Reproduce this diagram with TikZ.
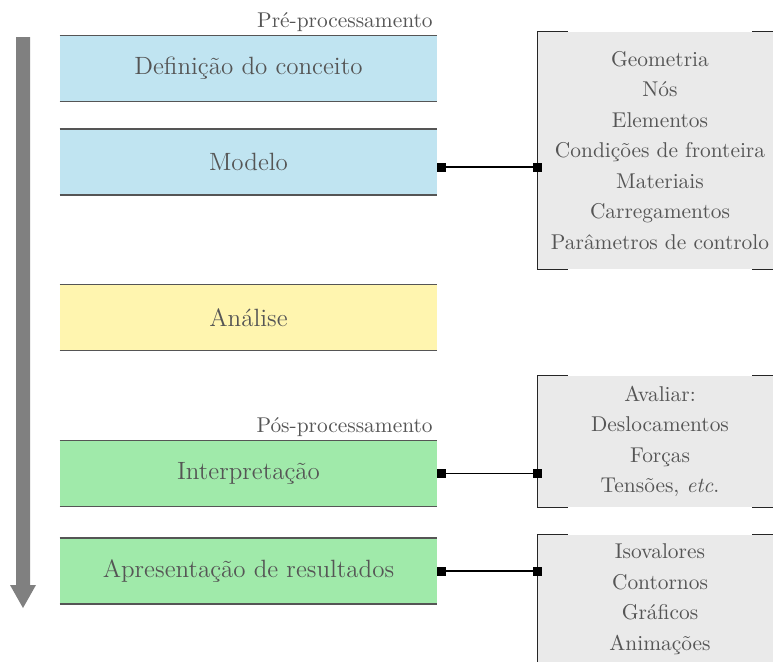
\documentclass[tikz,border=0pt]{standalone}
\usetikzlibrary{arrows.meta}
\definecolor{txt}{RGB}{85,85,85}
\definecolor{blueF}{RGB}{192,228,241}
\definecolor{yellowF}{RGB}{255,245,175}
\definecolor{greenF}{RGB}{160,234,170}
\definecolor{infoF}{RGB}{234,234,234}
\definecolor{arrowG}{RGB}{128,128,128}
\begin{document}
\begin{tikzpicture}[x=0.5pt,y=-0.5pt,
  stage/.style={minimum width=188.5pt,minimum height=32.5pt,inner sep=0pt,text=txt,font=\fontsize{12.5}{15}\selectfont},
  edge/.style={draw=txt,line width=0.75pt},
  lab/.style={text=txt,inner sep=0pt,font=\fontsize{10.7}{13}\selectfont},
  info/.style={fill=infoF,minimum width=122pt,inner sep=0pt,align=center,text=txt,font=\fontsize{10.7}{15.25}\selectfont},
  br/.style={draw=black!85,line width=0.6pt},
  conn/.style={draw=black,line width=0.7pt,{Square[length=4.5pt,width=4.5pt]}-{Square[length=4.5pt,width=4.5pt]}}
]
\useasboundingbox (0,0) rectangle (773,661);

% progress arrow
\fill[arrowG] (16,37) -- (30,37) -- (30,585) -- (36,585) -- (23,608) -- (10,585) -- (16,585) -- cycle;

% stages
\node[stage,fill=blueF] (d) at (248.5,68.5) {Definição do conceito};
\node[stage,fill=blueF] (m) at (248.5,162) {Modelo};
\node[stage,fill=yellowF] (a) at (248.5,317.5) {Análise};
\node[stage,fill=greenF] (i) at (248.5,473.5) {Interpretação};
\node[stage,fill=greenF] (p) at (248.5,571) {Apresentação de resultados};
\foreach \n in {d,m,a,i,p}{
  \draw[edge] (\n.north west) -- (\n.north east);
  \draw[edge] (\n.south west) -- (\n.south east);
}

\node[lab,anchor=base east] (pre) at (433,27) {Pré-processamento};
\node[lab,anchor=base east] (pos) at (433,432) {Pós-processamento};

% info boxes
\node[info,minimum height=118.5pt] (r1) at (660,150.5) {Geometria\\Nós\\Elementos\\Condições de fronteira\\Materiais\\Carregamentos\\Parâmetros de controlo};
\node[info,minimum height=65.5pt] (r2) at (660,441.5) {Avaliar:\\Deslocamentos\\Forças\\Tensões, \textit{etc}.};
\node[info,minimum height=64pt] (r3) at (660,599) {Isovalores\\Contornos\\Gráficos\\Animações};
\foreach \n in {r1,r2,r3}{
  \draw[br] ([xshift=15pt]\n.north west) -- (\n.north west) -- (\n.south west) -- ([xshift=15pt]\n.south west);
  \draw[br] ([xshift=-15pt]\n.north east) -- (\n.north east) -- (\n.south east) -- ([xshift=-15pt]\n.south east);
}

% connectors
\draw[conn,shorten >=-2.25pt] ([yshift=-2.5pt]m.east) -- ([yshift=-2.5pt]m.east -| r1.west);
\draw[conn,shorten >=-2.25pt] (i.east) -- (i.east -| r2.west);
\draw[conn,shorten >=-2.25pt] (p.east) -- (p.east -| r3.west);
\end{tikzpicture}
\end{document}
